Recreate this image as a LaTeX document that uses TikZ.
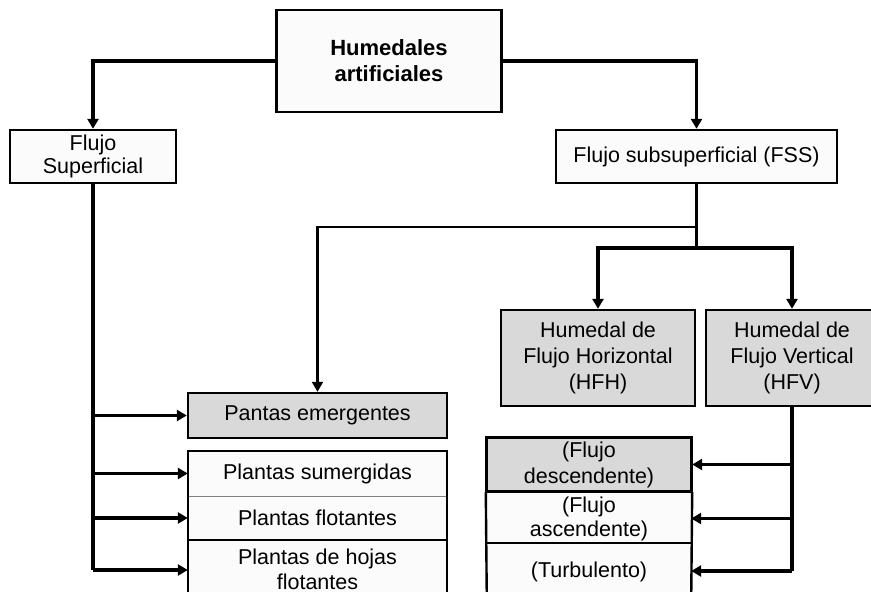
\documentclass[tikz,border=0pt]{standalone}
\usepackage{fontspec}
\setmainfont{Liberation Sans}
\usetikzlibrary{arrows.meta}
\definecolor{boxgrey}{HTML}{D9D9D9}
\definecolor{boxwhite}{HTML}{FBFBFB}
\begin{document}
\begin{tikzpicture}[x=1pt,y=-1pt,
  every node/.style={font=\fontsize{21.5}{25}\selectfont, align=center, inner sep=0pt},
  boxw/.style={draw, line width=2.4pt, fill=boxwhite, rectangle},
  boxg/.style={draw, line width=2.4pt, fill=boxgrey, rectangle},
  cell/.style={rectangle, fill=boxwhite, draw=none},
  conn/.style={line width=3.2pt, -{Triangle[length=10pt,width=11pt]}},
  connthin/.style={line width=2.2pt, -{Triangle[length=10pt,width=11pt]}},
  trunk/.style={line width=3.2pt},
]
\useasboundingbox (0,0) rectangle (871,592);
\begin{scope}
\clip (0,0) rectangle (871,592);

% boxes
\node[boxw, minimum width=225pt, minimum height=102pt, font=\fontsize{22}{26}\selectfont\bfseries] (top) at (389,61)
  {Humedales\\artificiales};
\node[boxw, minimum width=166pt, minimum height=53pt, font=\fontsize{21.5}{23}\selectfont] (fs) at (93,156.5) {Flujo\\Superficial};
\node[boxw, minimum width=281pt, minimum height=53pt] (fss) at (696.5,156.5) {Flujo subsuperficial (FSS)};
\node[boxg, minimum width=194pt, minimum height=96pt, font=\fontsize{21.5}{26}\selectfont] (hfh) at (598,358) {Humedal de\\Flujo Horizontal\\(HFH)};
\node[boxg, minimum width=172pt, minimum height=96pt, font=\fontsize{21.5}{26}\selectfont] (hfv) at (792,358) {Humedal de\\Flujo Vertical\\(HFV)};
\node[boxg, minimum width=259pt, minimum height=45pt] (pe) at (317.5,415.5) {Pantas emergentes};

% plantas group
\node[cell, minimum width=259pt, minimum height=45pt] (ps) at (317.5,473.5) {Plantas sumergidas};
\node[cell, minimum width=259pt, minimum height=44pt] (pf) at (317.5,518) {Plantas flotantes};
\node[cell, minimum width=259pt, minimum height=58pt] (ph) at (317.5,569) {Plantas de hojas\\flotantes};
\draw[line width=1pt, gray] (ps.south west) -- (ps.south east);
\draw[line width=1.5pt] (pf.south west) -- (pf.south east);
\draw[line width=2.4pt] (ph.south west) -- (ps.north west) -- (ps.north east) -- (ph.south east);

% vertical flow group
\node[boxg, minimum width=204pt, minimum height=53pt, font=\fontsize{21.5}{26}\selectfont] (fd) at (589,464.5) {(Flujo\\descendente)};
\node[cell, minimum width=204pt, minimum height=52pt, font=\fontsize{21.5}{24}\selectfont] (fa) at (589,518.5) {(Flujo\\ascendente)};
\node[cell, minimum width=204pt, minimum height=57pt] (tu) at (589,571.5) {(Turbulento)};
\draw[line width=1.5pt] (tu.north west) -- (tu.north east);
\draw[line width=2.4pt] (tu.south west) -- (fd.south west) (fd.south east) -- (tu.south east);
\draw[line width=2.4pt] (fd.south west) rectangle (fd.north east);

% coordinates
\coordinate (fsend) at (93,570);
\coordinate (fssbr) at (696.5,227);
\coordinate (fssend) at (696.5,248);
\coordinate (hfvend) at (792,571);

% connectors from top
\draw[conn] (top.west) -| (fs.north);
\draw[conn] (top.east) -| (fss.north);

% FSS branches
\draw[trunk] (fss.south) -- (fssend);
\draw[connthin] (fssbr) -| (pe.north);
\draw[conn] (fssend) -| (hfh.north);
\draw[conn] (fssend) -| (hfv.north);

% left trunk
\draw[trunk] (fs.south) -- (fsend);
\draw[conn] (fs.south |- pe.west) -- (pe.west);
\draw[conn] (fs.south |- ps.west) -- (ps.west);
\draw[conn] (fs.south |- pf.west) -- (pf.west);
\draw[conn] (fsend) -- (fsend -| ph.west);

% right trunk
\draw[trunk] (hfv.south) -- (hfvend);
\draw[conn] (hfv.south |- fd.east) -- (fd.east);
\draw[conn] (hfv.south |- fa.east) -- (fa.east);
\draw[conn] (hfvend) -- (hfvend -| tu.east);
\end{scope}
\end{tikzpicture}
\end{document}
